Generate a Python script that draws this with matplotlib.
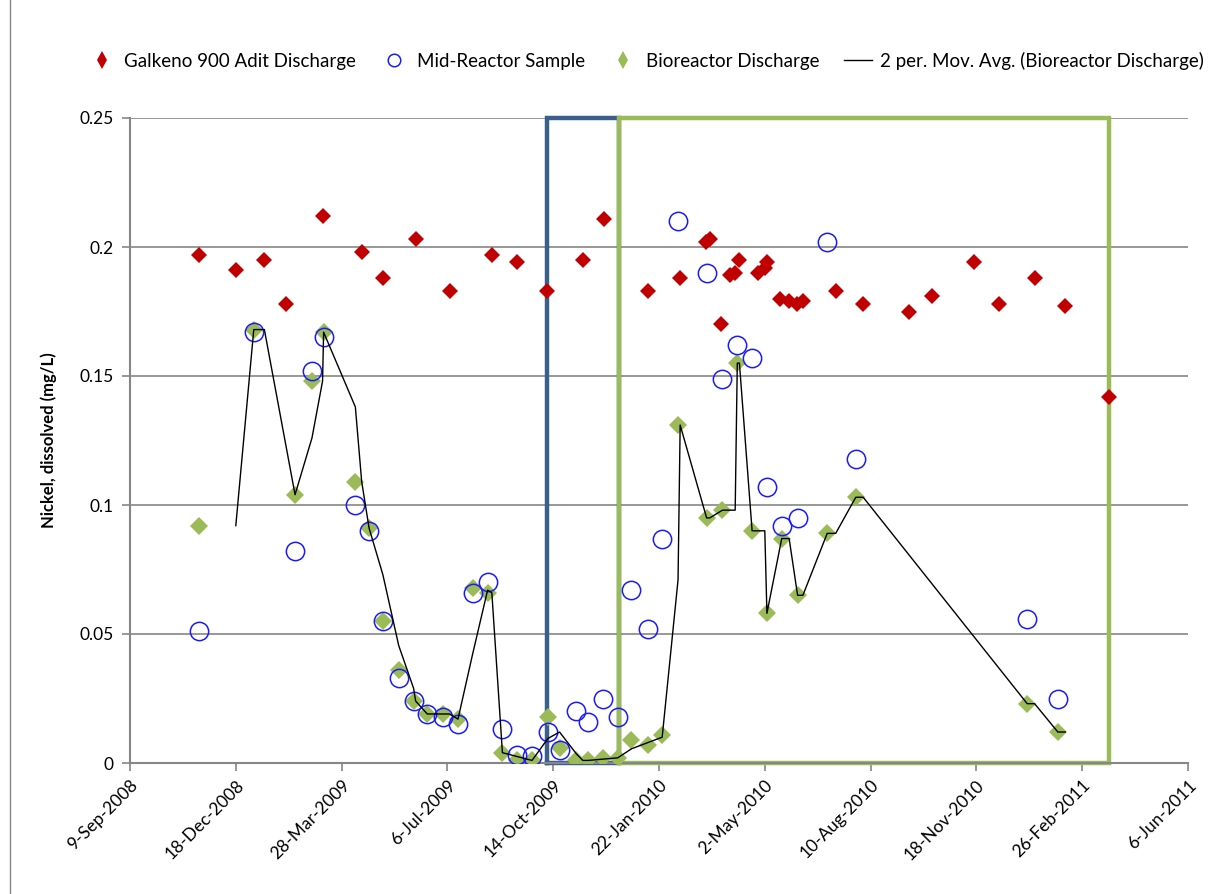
import matplotlib
matplotlib.use("Agg")
from matplotlib import pyplot as plt
from matplotlib.lines import Line2D
import pandas as pd

plt.rcParams['font.family'] = ['Lato', 'DejaVu Sans']

# Galkeno 900 adit discharge
galkeno_dates = ["2008-11-13", "2008-12-18", "2009-01-14", "2009-02-03", "2009-03-10",
                 "2009-04-16", "2009-05-06", "2009-06-06", "2009-07-08", "2009-08-17",
                 "2009-09-10", "2009-10-08", "2009-11-11", "2009-12-01", "2010-01-12",
                 "2010-02-11", "2010-03-07", "2010-03-11", "2010-03-22", "2010-03-30",
                 "2010-04-04", "2010-04-08", "2010-04-26", "2010-05-02", "2010-05-04",
                 "2010-05-16", "2010-05-25", "2010-06-01", "2010-06-07", "2010-07-08",
                 "2010-08-03", "2010-09-15", "2010-10-07", "2010-11-16", "2010-12-09",
                 "2011-01-12", "2011-02-10", "2011-03-23"]
galkeno_ni = [0.197, 0.191, 0.195, 0.178, 0.212, 0.198, 0.188, 0.203, 0.183, 0.197,
              0.194, 0.183, 0.195, 0.211, 0.183, 0.188, 0.202, 0.203, 0.170, 0.189,
              0.190, 0.195, 0.190, 0.192, 0.194, 0.180, 0.179, 0.178, 0.179, 0.183,
              0.178, 0.175, 0.181, 0.194, 0.178, 0.188, 0.177, 0.142]

# mid-reactor samples
mid_dates = ["2008-11-13", "2009-01-04", "2009-02-12", "2009-02-28", "2009-03-11",
             "2009-04-10", "2009-04-23", "2009-05-06", "2009-05-21", "2009-06-04",
             "2009-06-17", "2009-07-02", "2009-07-16", "2009-07-30", "2009-08-13",
             "2009-08-27", "2009-09-10", "2009-09-24", "2009-10-09", "2009-10-20",
             "2009-11-05", "2009-11-16", "2009-11-30", "2009-12-14", "2009-12-27",
             "2010-01-12", "2010-01-25", "2010-02-09", "2010-03-08", "2010-03-23",
             "2010-04-06", "2010-04-20", "2010-05-04", "2010-05-18", "2010-06-02",
             "2010-06-30", "2010-07-27", "2011-01-05", "2011-02-03"]
mid_ni = [0.051, 0.167, 0.082, 0.152, 0.165, 0.100, 0.090, 0.055, 0.033, 0.024,
          0.019, 0.018, 0.015, 0.066, 0.070, 0.013, 0.003, 0.0026, 0.012, 0.005,
          0.020, 0.016, 0.025, 0.018, 0.067, 0.052, 0.087, 0.210, 0.190, 0.149,
          0.162, 0.157, 0.107, 0.092, 0.095, 0.202, 0.118, 0.056, 0.025]

# bioreactor discharge
bio_dates = ["2008-11-13", "2009-01-04", "2009-02-12", "2009-02-28", "2009-03-11",
             "2009-04-10", "2009-04-23", "2009-05-06", "2009-05-21", "2009-06-04",
             "2009-06-17", "2009-07-02", "2009-07-16", "2009-07-30", "2009-08-13",
             "2009-08-27", "2009-09-10", "2009-09-24", "2009-10-09", "2009-10-20",
             "2009-11-05", "2009-11-16", "2009-11-30", "2009-12-14", "2009-12-27",
             "2010-01-12", "2010-01-25", "2010-02-09", "2010-03-08", "2010-03-23",
             "2010-04-06", "2010-04-20", "2010-05-04", "2010-05-18", "2010-06-02",
             "2010-06-30", "2010-07-27", "2011-01-05", "2011-02-03"]
bio_ni = [0.092, 0.168, 0.104, 0.148, 0.167, 0.109, 0.091, 0.055, 0.036, 0.024,
          0.019, 0.019, 0.017, 0.068, 0.066, 0.004, 0.001, 0.001, 0.018, 0.006,
          0.001, 0.001, 0.002, 0.002, 0.009, 0.007, 0.011, 0.131, 0.095, 0.098,
          0.155, 0.090, 0.058, 0.087, 0.065, 0.089, 0.103, 0.023, 0.012]

# 2 period moving average trendline (as plotted by the spreadsheet)
ma_dates = ["2008-12-18", "2009-01-04", "2009-01-14", "2009-02-12", "2009-02-28",
            "2009-03-10", "2009-03-11", "2009-04-10", "2009-04-16", "2009-04-23",
            "2009-05-06", "2009-05-21", "2009-06-04", "2009-06-06", "2009-06-17",
            "2009-07-02", "2009-07-08", "2009-07-16", "2009-07-30", "2009-08-13",
            "2009-08-17", "2009-08-27", "2009-09-10", "2009-09-24", "2009-10-09",
            "2009-10-20", "2009-11-05", "2009-11-11", "2009-11-16", "2009-11-30",
            "2009-12-14", "2009-12-27", "2010-01-12", "2010-01-25", "2010-02-09",
            "2010-02-11", "2010-03-08", "2010-03-11", "2010-03-23", "2010-03-30",
            "2010-04-04", "2010-04-06", "2010-04-08", "2010-04-20", "2010-04-26",
            "2010-05-02", "2010-05-04", "2010-05-18", "2010-05-25", "2010-06-02",
            "2010-06-07", "2010-06-30", "2010-07-08", "2010-07-27", "2010-08-03",
            "2011-01-05", "2011-01-12", "2011-02-03", "2011-02-10"]
ma_ni = [0.092, 0.168, 0.168, 0.104, 0.126, 0.148, 0.167, 0.138, 0.109, 0.091,
         0.073, 0.0455, 0.029, 0.024, 0.019, 0.019, 0.019, 0.017, 0.0425, 0.067,
         0.066, 0.004, 0.0025, 0.001, 0.0095, 0.012, 0.0035, 0.001, 0.001, 0.0015,
         0.002, 0.0055, 0.008, 0.010, 0.071, 0.131, 0.095, 0.095, 0.098, 0.098,
         0.098, 0.155, 0.155, 0.090, 0.090, 0.090, 0.058, 0.087, 0.087, 0.065,
         0.065, 0.089, 0.089, 0.103, 0.103, 0.023, 0.023, 0.012, 0.012]

# treatment phases outlined on the plot
phase1 = ("2009-10-08", "2009-12-15")
phase2 = ("2009-12-15", "2011-03-23")

x_start = pd.Timestamp("2008-09-09")
x_end = pd.Timestamp("2011-06-06")

fig = plt.figure(figsize=(12.14, 8.94), dpi=100)
ax = fig.add_axes([130 / 1214, 1 - 763 / 894, 1058 / 1214, 645 / 894])

td = lambda l: pd.to_datetime(l)

# phase boxes
for (a, b), col in [(phase1, "#3b5f8c"), (phase2, "#9bbb59")]:
    a, b = pd.Timestamp(a), pd.Timestamp(b)
    ax.plot([a, a, b, b, a], [0, 0.25, 0.25, 0, 0], color=col, lw=3.2,
            solid_joinstyle='miter', clip_on=False, zorder=2)

ax.plot(td(galkeno_dates), galkeno_ni, 'D', color="#c00000", ms=8.0, mew=0,
        zorder=4, label="Galkeno 900 Adit Discharge")
ax.plot(td(mid_dates), mid_ni, 'o', mfc='none', mec="#1a1aff", ms=13.2, mew=1.1,
        zorder=4, label="Mid-Reactor Sample")
ax.plot(td(bio_dates), bio_ni, 'D', color="#9bbb59", ms=9.4, mew=0,
        zorder=3, label="Bioreactor Discharge")
ax.plot(td(ma_dates), ma_ni, '-', color="black", lw=1.0, zorder=5,
        label="2 per. Mov. Avg. (Bioreactor Discharge)")

ax.set_xlim(x_start, x_end)
ax.set_ylim(0, 0.25)

ticks = pd.date_range(x_start, x_end, freq="100D")
ax.set_xticks(ticks)
ax.set_xticklabels([f"{d.day}-{d.strftime('%b-%Y')}" for d in ticks],
                   rotation=45, ha='right', rotation_mode='anchor', fontsize=12.5)
ax.set_yticks([0, 0.05, 0.1, 0.15, 0.2, 0.25])
ax.set_yticklabels(["0", "0.05", "0.1", "0.15", "0.2", "0.25"], fontsize=12.5)
ax.tick_params(axis='both', color="#868686", length=6, width=1.2, pad=6)
ax.tick_params(axis='x', pad=4)

ax.grid(axis='y', color="#868686", lw=1.2)
ax.set_axisbelow(True)
for s in ['top', 'right']:
    ax.spines[s].set_visible(False)
for s in ['left', 'bottom']:
    ax.spines[s].set_color("#868686")
    ax.spines[s].set_linewidth(1.5)

ax.set_ylabel("Nickel, dissolved (mg/L)", fontsize=12, fontweight='bold', labelpad=16)

handles, labels = ax.get_legend_handles_labels()
handles[0] = Line2D([], [], marker='d', ls='none', color="#c00000", ms=9, mew=0)
handles[1] = Line2D([], [], marker='o', ls='none', mfc='none', mec="#1a1aff", ms=9, mew=1.1)
handles[2] = Line2D([], [], marker='d', ls='none', color="#9bbb59", ms=9, mew=0)
fig.legend(handles, labels, loc='center', bbox_to_anchor=(0.532, 1 - 61 / 894), ncol=4,
           frameon=False, fontsize=13.5, handlelength=1.5, handletextpad=0.45,
           columnspacing=1.3)

# outer chart frame edge
fig.add_artist(Line2D([10 / 1214, 10 / 1214], [0, 1], color="#868686", lw=1.0))

fig.savefig("out.png", dpi=100)
